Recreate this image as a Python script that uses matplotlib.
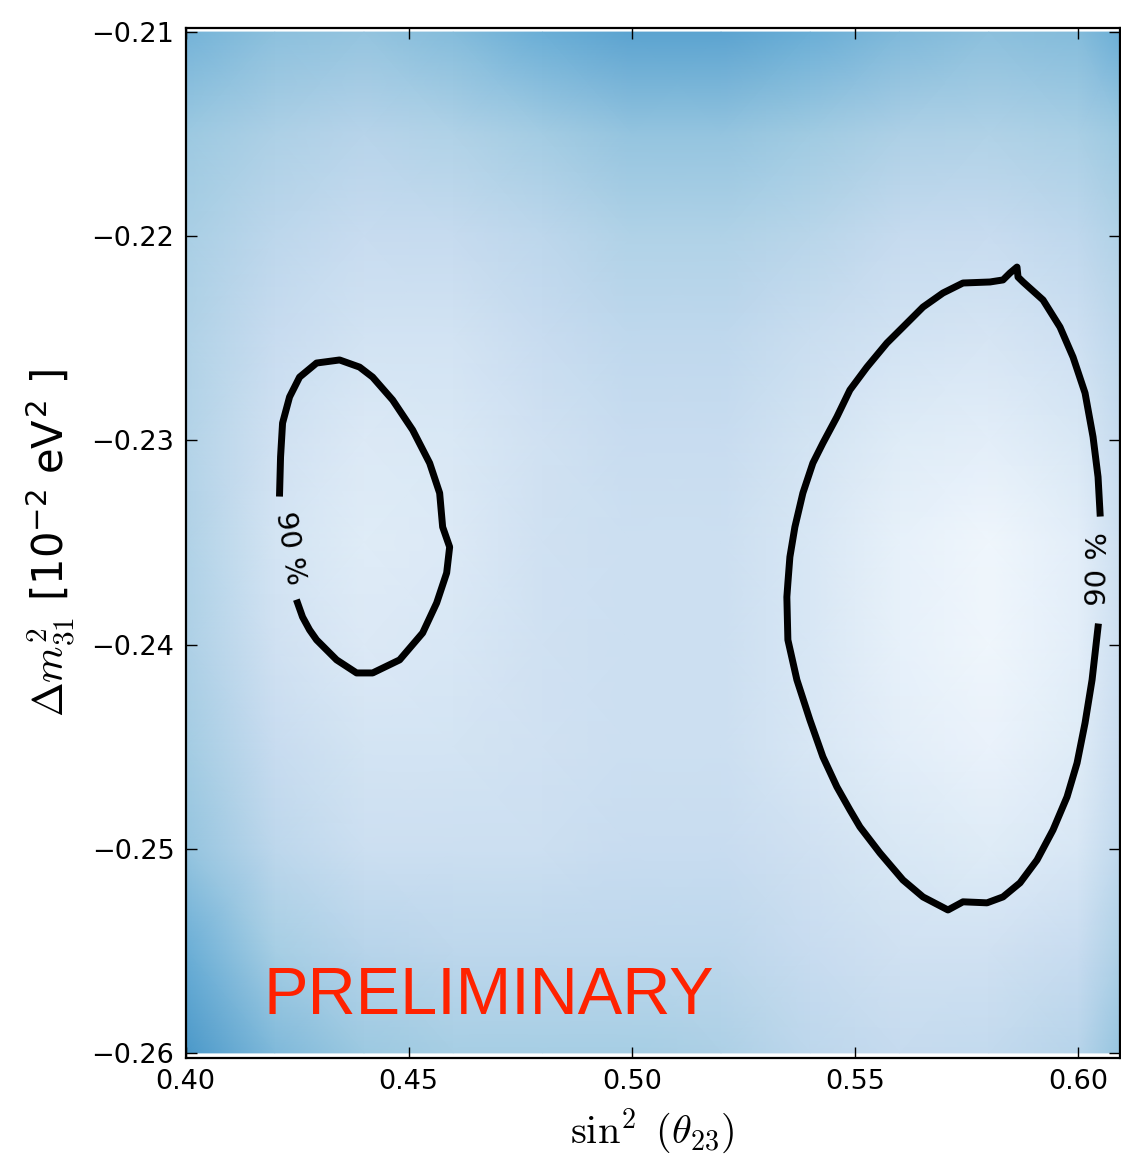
import numpy as np
import matplotlib
matplotlib.use('Agg')
import matplotlib.pyplot as plt

plt.rcParams['mathtext.fontset'] = 'cm'

# background likelihood map (coarse read-off, 0 = white, 1 = dark blue)
grid_x = [0.40, 0.42, 0.44, 0.46, 0.48, 0.50, 0.52, 0.54, 0.56, 0.58, 0.60, 0.61]
grid_y = [-0.210, -0.215, -0.220, -0.225, -0.230, -0.235,
          -0.240, -0.245, -0.250, -0.255, -0.260]
grid_z = [
    [0.48, 0.42, 0.40, 0.44, 0.50, 0.55, 0.55, 0.50, 0.45, 0.42, 0.44, 0.50],
    [0.38, 0.33, 0.30, 0.32, 0.36, 0.40, 0.40, 0.37, 0.33, 0.32, 0.34, 0.38],
    [0.34, 0.28, 0.24, 0.25, 0.28, 0.32, 0.32, 0.29, 0.25, 0.24, 0.27, 0.32],
    [0.32, 0.24, 0.19, 0.19, 0.24, 0.27, 0.27, 0.23, 0.19, 0.17, 0.21, 0.28],
    [0.31, 0.20, 0.14, 0.15, 0.20, 0.24, 0.24, 0.18, 0.12, 0.10, 0.15, 0.25],
    [0.32, 0.18, 0.12, 0.14, 0.20, 0.22, 0.22, 0.16, 0.08, 0.04, 0.10, 0.22],
    [0.33, 0.20, 0.14, 0.16, 0.20, 0.22, 0.22, 0.16, 0.08, 0.04, 0.10, 0.22],
    [0.36, 0.24, 0.18, 0.18, 0.20, 0.22, 0.22, 0.16, 0.10, 0.07, 0.12, 0.24],
    [0.40, 0.28, 0.22, 0.22, 0.22, 0.24, 0.24, 0.20, 0.15, 0.12, 0.16, 0.27],
    [0.50, 0.35, 0.30, 0.28, 0.28, 0.28, 0.28, 0.24, 0.20, 0.20, 0.24, 0.33],
    [0.60, 0.45, 0.38, 0.35, 0.35, 0.35, 0.33, 0.28, 0.25, 0.26, 0.30, 0.40],
]

# 90 % contour, left island (from label gap, round to other side of gap)
left_x = [0.42108, 0.42130, 0.42175, 0.42332, 0.42556, 0.42937, 0.43453, 0.43901,
          0.44193, 0.44641, 0.45090, 0.45471, 0.45695, 0.45762, 0.45919, 0.45852,
          0.45628, 0.45314, 0.44798, 0.44193, 0.43834, 0.43386, 0.42937, 0.42780,
          0.42623, 0.42511]
left_y = [-0.23258, -0.23081, -0.22915, -0.22787, -0.22690, -0.22621, -0.22606, -0.22641,
          -0.22690, -0.22802, -0.22949, -0.23111, -0.23258, -0.23424, -0.23522, -0.23649,
          -0.23796, -0.23943, -0.24075, -0.24139, -0.24139, -0.24075, -0.23977, -0.23928,
          -0.23865, -0.23796]

# 90 % contour, right island
right_x = [0.60493, 0.60448, 0.60336, 0.60157, 0.59888, 0.59596, 0.59215, 0.58767,
           0.58655, 0.58632, 0.58475, 0.58318, 0.58027, 0.57422, 0.56973, 0.56525,
           0.56076, 0.55717, 0.55269, 0.54888, 0.54596, 0.54283, 0.54058, 0.53834,
           0.53655, 0.53543, 0.53498, 0.53475, 0.53498, 0.53700, 0.53991, 0.54283,
           0.54596, 0.54888, 0.55112, 0.55561, 0.56076, 0.56525, 0.57085, 0.57422,
           0.57960, 0.58318, 0.58700, 0.59081, 0.59439, 0.59753, 0.59978, 0.60157,
           0.60314, 0.60448]
right_y = [-0.23356, -0.23179, -0.22983, -0.22768, -0.22592, -0.22445, -0.22312, -0.22224,
           -0.22200, -0.22151, -0.22180, -0.22214, -0.22224, -0.22229, -0.22278, -0.22347,
           -0.22445, -0.22523, -0.22641, -0.22753, -0.22885, -0.23013, -0.23111, -0.23258,
           -0.23424, -0.23571, -0.23698, -0.23767, -0.23977, -0.24173, -0.24369, -0.24550,
           -0.24697, -0.24810, -0.24893, -0.25021, -0.25153, -0.25236, -0.25300, -0.25260,
           -0.25265, -0.25236, -0.25167, -0.25055, -0.24908, -0.24746, -0.24580, -0.24384,
           -0.24173, -0.23914]

label_text = '90 %'
label_pos = [(0.42344, -0.23527), (0.60460, -0.23628)]
label_rot = [-81, 89]

x_ticks = [0.40, 0.45, 0.50, 0.55, 0.60]
x_tick_labels = ['0.40', '0.45', '0.50', '0.55', '0.60']
y_ticks = [-0.21, -0.22, -0.23, -0.24, -0.25, -0.26]
y_tick_labels = ['\u22120.21', '\u22120.22', '\u22120.23', '\u22120.24', '\u22120.25', '\u22120.26']

fig = plt.figure(figsize=(11.21, 11.62), dpi=100)
ax = fig.add_axes([185.5 / 1121, 1 - 1058 / 1162, (1120 - 185.5) / 1121, (1058 - 28) / 1162])

gx, gy = np.meshgrid(grid_x, grid_y)
ax.pcolormesh(gx, gy, np.array(grid_z), cmap='Blues', vmin=0, vmax=1, shading='gouraud')

ax.plot(left_x, left_y, color='black', lw=5, solid_joinstyle='round')
ax.plot(right_x, right_y, color='black', lw=5, solid_joinstyle='round')
for (lx, ly), rot in zip(label_pos, label_rot):
    ax.text(lx, ly, label_text, rotation=rot, ha='center', va='center',
            fontsize=21, rotation_mode='anchor')

ax.text(0.4175, -0.2581, 'PRELIMINARY', color='#ff2200', fontsize=48,
        family='Liberation Sans', ha='left', va='baseline')

ax.set_xlim(0.40, 0.6094)
ax.set_ylim(-0.26025, -0.2098)
ax.set_xticks(x_ticks, x_tick_labels)
ax.set_yticks(y_ticks, y_tick_labels)
ax.tick_params(direction='in', top=True, right=True, length=8, width=1,
               labelsize=19.5, pad=8)
for s in ax.spines.values():
    s.set_linewidth(1.6)

ax.set_xlabel(r'$\sin^2\ (\theta_{23})$', fontsize=29, labelpad=8)
ax.set_ylabel(r'$\Delta m^2_{31}$ [$\mathregular{10^{-2}}$ eV$^\mathregular{2}$ ]',
              fontsize=30, labelpad=10)

plt.savefig('out.png', dpi=100)
